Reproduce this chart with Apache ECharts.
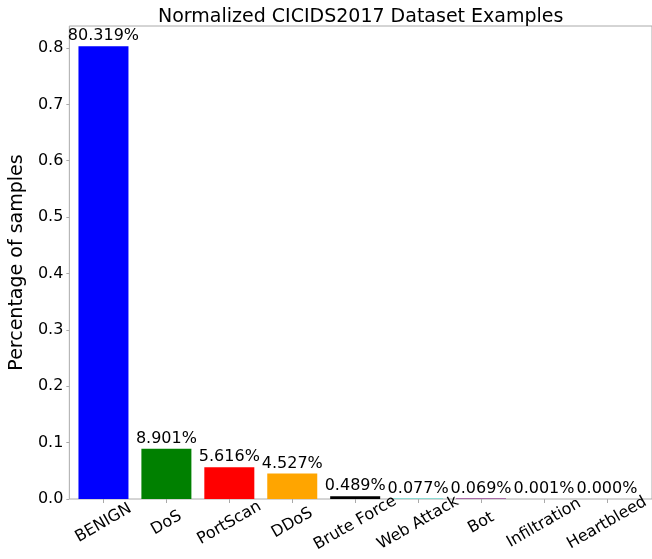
<!DOCTYPE html>
<html>
<head>
<meta charset="utf-8">
<script src="https://cdn.jsdelivr.net/npm/echarts@6/dist/echarts.min.js"></script>
<style>
  html, body { margin: 0; padding: 0; background: #fff; }
  #main { width: 652px; height: 559px; }
</style>
</head>
<body>
<div id="main"></div>
<script>
const categories = ['BENIGN', 'DoS', 'PortScan', 'DDoS', 'Brute Force', 'Web Attack', 'Bot', 'Infiltration', 'Heartbleed']
const fractions = [0.80319, 0.08901, 0.05616, 0.04527, 0.00489, 0.00077, 0.00069, 0.00001, 0.0]
const barColors = ['#0000ff', '#008000', '#ff0000', '#ffa500', '#000000', '#40e0d0', '#800080', '#ffc0cb', '#a52a2a']
const yTicks = [0, 0.1, 0.2, 0.3, 0.4, 0.5, 0.6, 0.7, 0.8]

const font = 'DejaVu Sans'
const yMax = 0.839

const chart = echarts.init(document.getElementById('main'))

const option = {
  animation: false,
  title: {
    text: 'Normalized CICIDS2017 Dataset Examples',
    left: 153,
    top: 3,
    textStyle: { fontFamily: font, fontSize: 19, fontWeight: 'normal', color: '#000' }
  },
  grid: [
    // frame (spines) + y axis
    { left: 51, right: -10, top: 26, bottom: 60, show: true, borderColor: '#aaaaaa', borderWidth: 1 },
    // bars
    { left: 72, right: 13, top: 26, bottom: 60 }
  ],
  xAxis: [
    { gridIndex: 0, type: 'value', show: false, min: 0, max: 1 },
    {
      gridIndex: 1,
      type: 'category',
      data: categories,
      axisLine: { show: false },
      axisTick: { show: true, alignWithLabel: true, length: 4, lineStyle: { color: '#aaaaaa' } },
      axisLabel: {
        rotate: 30,
        align: 'center',
        verticalAlign: 'middle',
        margin: 24,
        interval: 0,
        fontFamily: font,
        fontSize: 16,
        color: '#000'
      }
    }
  ],
  yAxis: [
    {
      gridIndex: 0,
      type: 'value',
      min: 0,
      max: yMax,
      interval: 0.1,
      name: 'Percentage of samples',
      nameLocation: 'middle',
      nameRotate: 90,
      nameGap: 33,
      nameTextStyle: { fontFamily: font, fontSize: 19, color: '#000' },
      splitLine: { show: false },
      axisLine: { show: false },
      axisTick: { show: true, length: 3, lineStyle: { color: '#aaaaaa' } },
      axisLabel: {
        showMaxLabel: false,
        margin: 6,
        fontFamily: font,
        fontSize: 16,
        color: '#000',
        formatter: function (v) {
          return yTicks.some(t => Math.abs(t - v) < 1e-6) ? v.toFixed(1) : ''
        }
      }
    },
    { gridIndex: 1, type: 'value', show: false, min: 0, max: yMax }
  ],
  series: [
    {
      type: 'bar',
      xAxisIndex: 1,
      yAxisIndex: 1,
      barWidth: 50,
      data: fractions.map((v, i) => ({ value: v, itemStyle: { color: barColors[i] } })),
      label: {
        show: true,
        position: 'top',
        distance: 2,
        fontFamily: font,
        fontSize: 16,
        color: '#000',
        formatter: p => (p.value * 100).toFixed(3) + '%'
      }
    }
  ]
}

chart.setOption(option)
</script>
</body>
</html>
